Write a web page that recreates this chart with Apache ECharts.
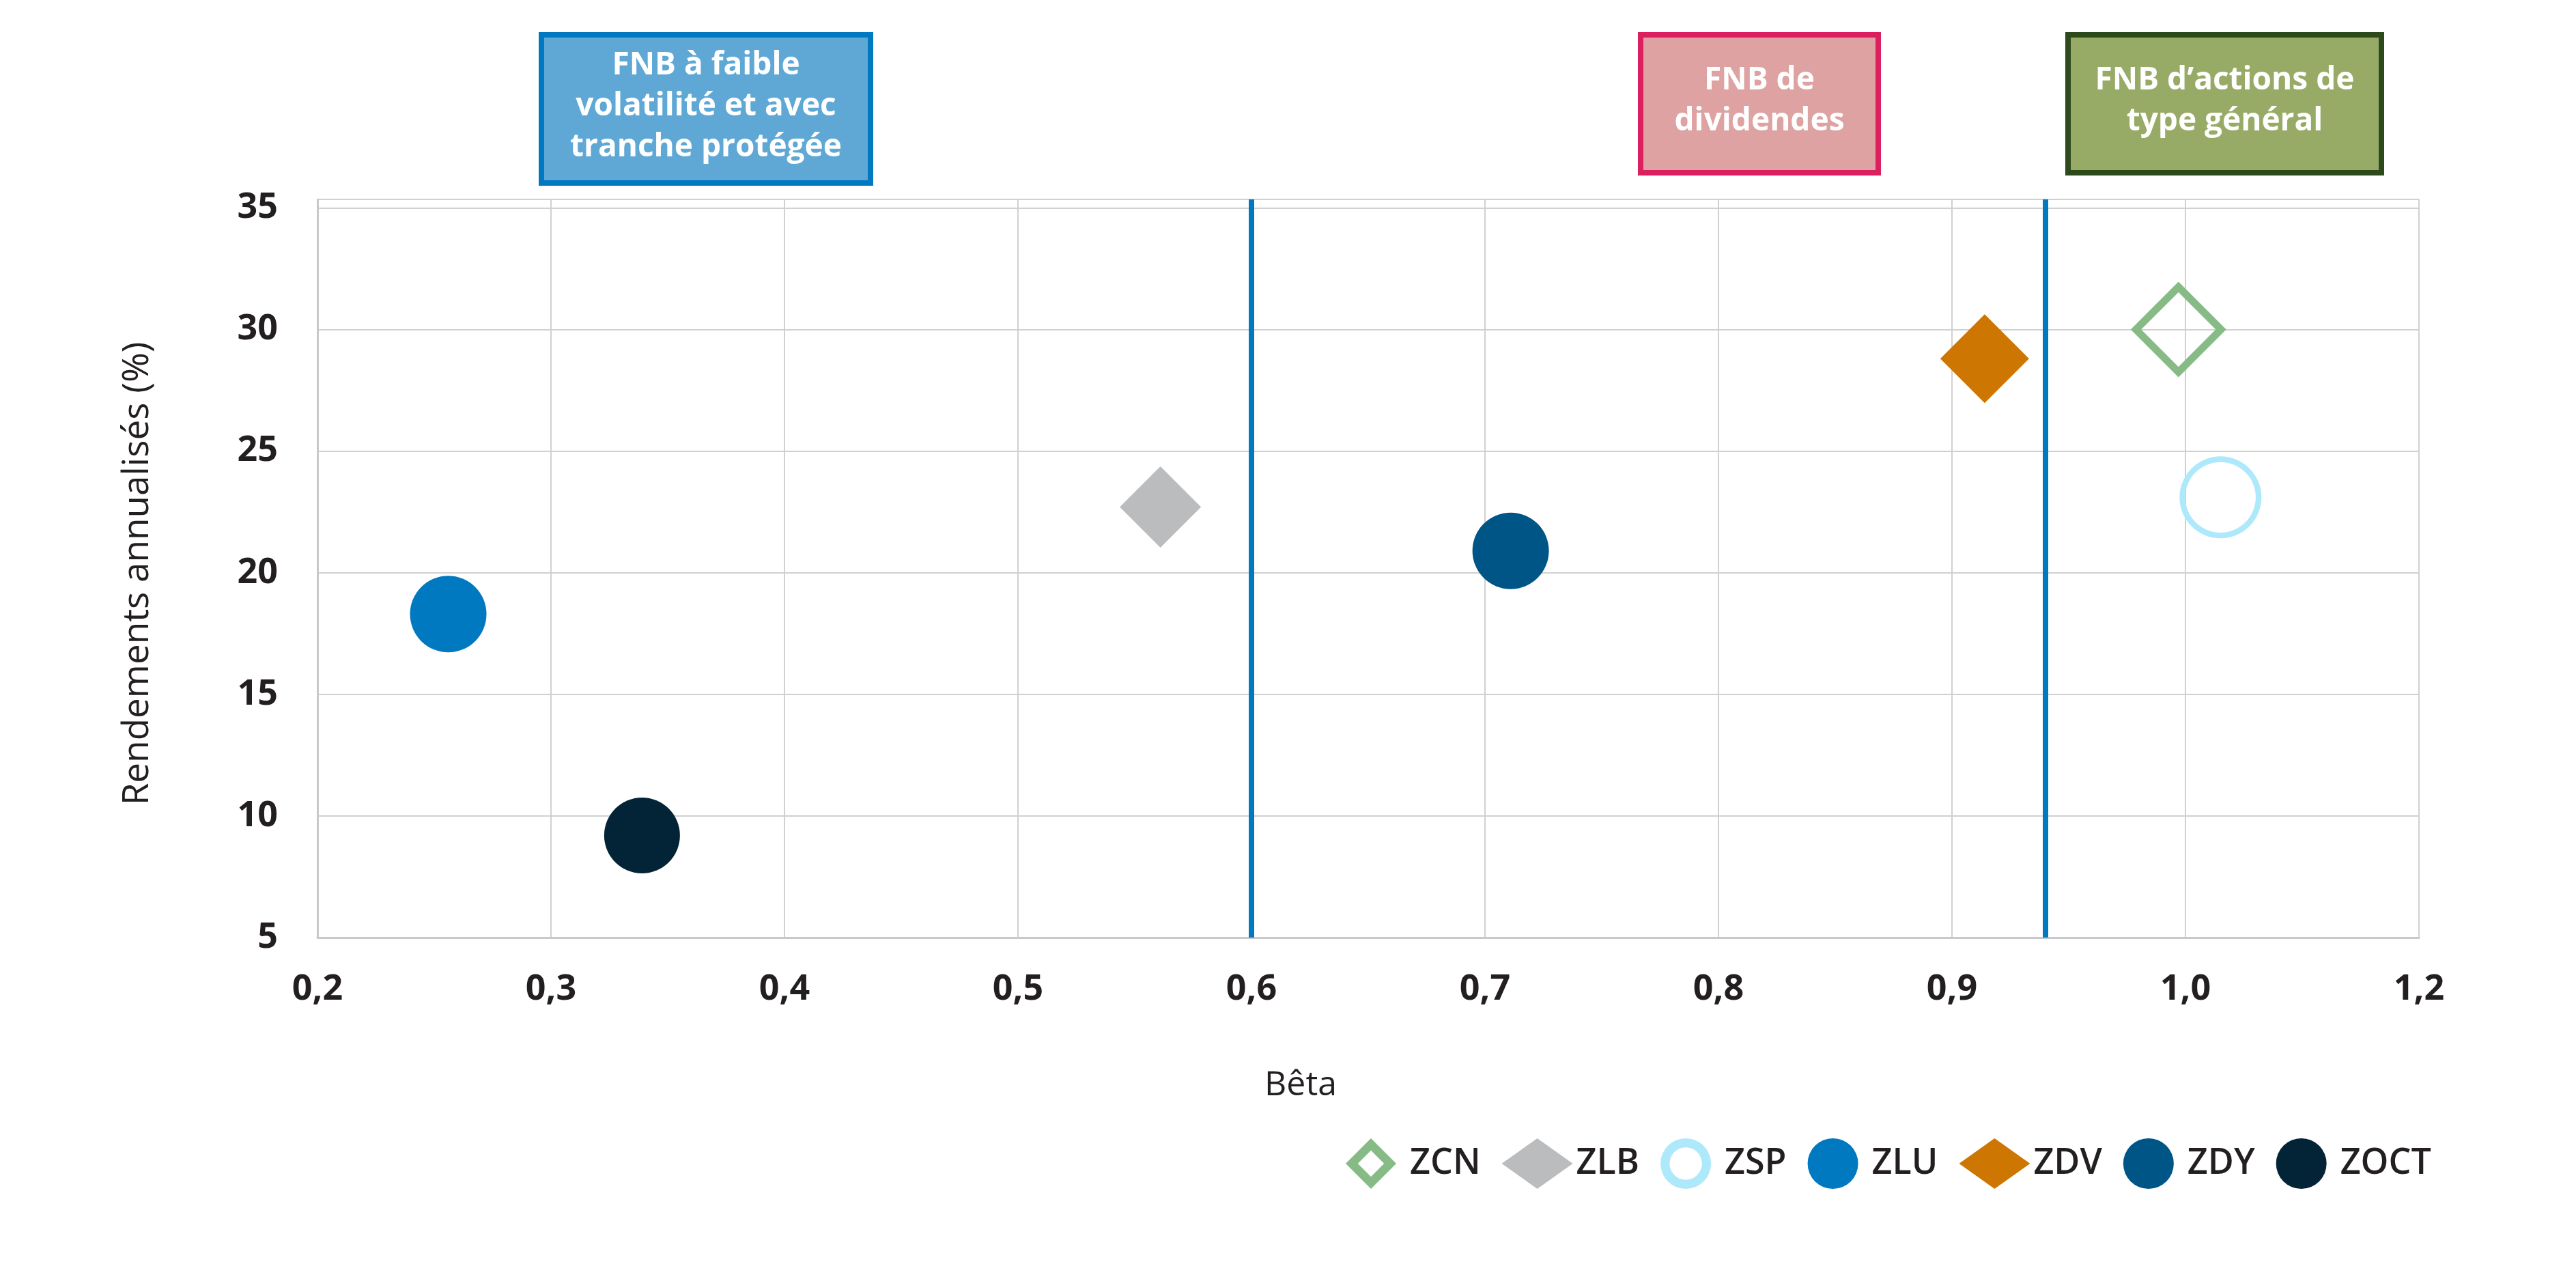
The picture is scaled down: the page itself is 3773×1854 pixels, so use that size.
<!DOCTYPE html>
<html>
<head>
<meta charset="utf-8">
<script src="https://cdn.jsdelivr.net/npm/echarts@6/dist/echarts.min.js"></script>
<style>
html,body{margin:0;padding:0;background:#fff;}
#chart{width:3773px;height:1854px;}
</style>
</head>
<body>
<div id="chart"></div>
<script>
// ---- data ----
const tickers = ['ZCN', 'ZLB', 'ZSP', 'ZLU', 'ZDV', 'ZDY', 'ZOCT'];
const betas   = [0.997, 0.561, 1.015, 0.256, 0.914, 0.711, 0.339];
const returns = [30.0, 22.7, 23.1, 18.3, 28.8, 20.9, 9.2];
const dividerBetas = [0.6, 0.9355];
const xTickLabels = ['0,2', '0,3', '0,4', '0,5', '0,6', '0,7', '0,8', '0,9', '1,0', '1,2'];
const groupLabels = [
  'FNB à faible\nvolatilité et avec\ntranche protégée',
  'FNB de\ndividendes',
  'FNB d\u2019actions de\ntype général'
];
const yAxisTitle = 'Rendements annualisés (%)';
const xAxisTitle = 'Bêta';

// ---- styles ----
const FONT = "'Open Sans', 'Noto Sans', sans-serif";
const diamondRing = 'path://M50,0 L100,50 L50,100 L0,50 Z M50,11 L11,50 L50,89 L89,50 Z';
const circleRing = 'path://M50,0 A50,50 0 1,1 50,100 A50,50 0 1,1 50,0 Z M50,7 A43,43 0 1,0 50,93 A43,43 0 1,0 50,7 Z';
const diamondRingLegend = 'path://M50,0 L100,50 L50,100 L0,50 Z M50,24 L24,50 L50,76 L76,50 Z';
const circleRingLegend = 'path://M50,0 A50,50 0 1,1 50,100 A50,50 0 1,1 50,0 Z M50,18 A32,32 0 1,0 50,82 A32,32 0 1,0 50,18 Z';
const markerStyles = {
  ZCN:  { color: '#86BB85', symbol: diamondRing, size: 140, legendIcon: diamondRingLegend },
  ZLB:  { color: '#BBBCBE', symbol: 'diamond', size: 119, legendIcon: 'diamond' },
  ZSP:  { color: '#AEE9FB', symbol: circleRing, size: 120, legendIcon: circleRingLegend },
  ZLU:  { color: '#0079C1', symbol: 'circle', size: 112, legendIcon: 'circle' },
  ZDV:  { color: '#CD7602', symbol: 'diamond', size: 130, legendIcon: 'diamond' },
  ZDY:  { color: '#005587', symbol: 'circle', size: 112, legendIcon: 'circle' },
  ZOCT: { color: '#032436', symbol: 'circle', size: 111, legendIcon: 'circle' }
};
const boxStyles = [
  { x: 793, y: 51, w: 482, h: 217, fill: '#5FA8D6', stroke: '#0079C1' },
  { x: 2403, y: 51, w: 348, h: 202, fill: '#DDA2A1', stroke: '#DC1F5F' },
  { x: 3029, y: 51, w: 459, h: 202, fill: '#97AB67', stroke: '#2D4A1D' }
];

const chart = echarts.init(document.getElementById('chart'), null, { renderer: 'canvas' });

const series = tickers.map((t, i) => {
  const st = markerStyles[t];
  const s = {
    name: t,
    type: 'scatter',
    symbol: st.symbol,
    symbolSize: st.size,
    data: [[betas[i], returns[i]]],
    itemStyle: { color: st.color, opacity: 1 },
    z: 3
  };
  if (i === 0) {
    s.markLine = {
      silent: true,
      symbol: ['none', 'none'],
      label: { show: false },
      lineStyle: { color: '#0079C1', width: 8, type: 'solid' },
      data: dividerBetas.map(v => ({ xAxis: v })),
      animation: false,
      z: 2
    };
  }
  return s;
});

const graphics = [];
boxStyles.forEach((b, i) => {
  graphics.push({
    type: 'rect', z: 10,
    shape: { x: b.x, y: b.y, width: b.w, height: b.h },
    style: { fill: b.fill, stroke: b.stroke, lineWidth: 8 }
  });
  graphics.push({
    type: 'text', z: 11,
    x: b.x + b.w / 2, y: b.y + b.h / 2 - 4,
    style: {
      text: groupLabels[i], fill: '#ffffff',
      fontSize: 46, fontWeight: 'bold', fontFamily: FONT,
      lineHeight: 60, align: 'center', verticalAlign: 'middle',
      textAlign: 'center', textVerticalAlign: 'middle'
    }
  });
});
graphics.push({
  type: 'text', z: 11,
  x: 202, y: 840, rotation: Math.PI / 2,
  style: {
    text: yAxisTitle, fill: '#231F20', fontSize: 53, fontFamily: FONT,
    align: 'center', verticalAlign: 'middle', textAlign: 'center', textVerticalAlign: 'middle'
  }
});
graphics.push({
  type: 'text', z: 11,
  x: 1905, y: 1590,
  style: {
    text: xAxisTitle, fill: '#231F20', fontSize: 50, fontFamily: FONT,
    align: 'center', verticalAlign: 'middle', textAlign: 'center', textVerticalAlign: 'middle'
  }
});

chart.setOption({
  animation: false,
  backgroundColor: '#ffffff',
  textStyle: { fontFamily: FONT },
  grid: { left: 465, right: 230, top: 292, bottom: 481, containLabel: false },
  xAxis: {
    type: 'value', min: 0.2, max: 1.1, interval: 0.1,
    axisLine: { show: true, lineStyle: { color: '#C9C9C9', width: 3 } },
    axisTick: { show: false },
    splitLine: { show: true, lineStyle: { color: '#D0D0D0', width: 2 } },
    axisLabel: {
      margin: 50, color: '#231F20', fontSize: 52, fontWeight: 'bold', fontFamily: FONT,
      formatter: v => xTickLabels[Math.round((v - 0.2) / 0.1)] || ''
    }
  },
  yAxis: {
    type: 'value', min: 5, max: 35.35, interval: 5,
    axisLine: { show: true, lineStyle: { color: '#C9C9C9', width: 3 } },
    axisTick: { show: false },
    splitLine: { show: true, lineStyle: { color: '#D0D0D0', width: 2 } },
    axisLabel: {
      margin: 58, color: '#231F20', fontSize: 52, fontWeight: 'bold', fontFamily: FONT,
      showMaxLabel: false,
      formatter: v => (Math.abs(v / 5 - Math.round(v / 5)) < 1e-6 ? String(Math.round(v)) : '')
    }
  },
  legend: {
    left: 1966, top: 1662, orient: 'horizontal',
    itemWidth: 104, itemHeight: 74, itemGap: 31,
    textStyle: { color: '#231F20', fontSize: 52, fontWeight: 600, fontFamily: FONT },
    data: tickers.map(t => ({ name: t, icon: markerStyles[t].legendIcon, itemStyle: { color: markerStyles[t].color, borderWidth: 0 } })),
    selectedMode: false
  },
  series: series,
  graphic: graphics
});
</script>
</body>
</html>
